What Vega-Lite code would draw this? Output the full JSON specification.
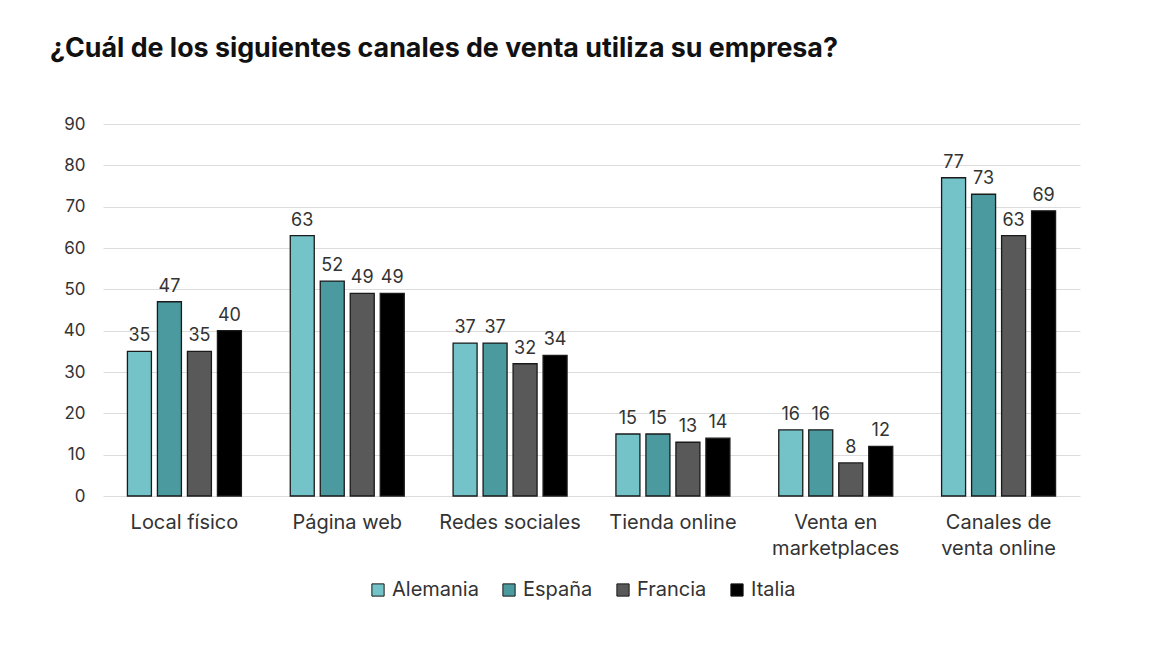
{
  "$schema": "https://vega.github.io/schema/vega-lite/v6.json",
  "autosize": {"type": "none"},
  "width": 977,
  "height": 372,
  "padding": {"left": 103, "top": 124, "right": 70, "bottom": 158},
  "background": "white",
  "title": {
    "text": "¿Cuál de los siguientes canales de venta utiliza su empresa?",
    "anchor": "start",
    "frame": "group",
    "dx": -53,
    "offset": 52,
    "font": "Inter",
    "fontSize": 26.8,
    "fontWeight": "bold",
    "color": "#111111"
  },
  "data": {
    "values": [
      {"canal": "Local físico", "pais": "Alemania", "valor": 35},
      {"canal": "Local físico", "pais": "España", "valor": 47},
      {"canal": "Local físico", "pais": "Francia", "valor": 35},
      {"canal": "Local físico", "pais": "Italia", "valor": 40},
      {"canal": "Página web", "pais": "Alemania", "valor": 63},
      {"canal": "Página web", "pais": "España", "valor": 52},
      {"canal": "Página web", "pais": "Francia", "valor": 49},
      {"canal": "Página web", "pais": "Italia", "valor": 49},
      {"canal": "Redes sociales", "pais": "Alemania", "valor": 37},
      {"canal": "Redes sociales", "pais": "España", "valor": 37},
      {"canal": "Redes sociales", "pais": "Francia", "valor": 32},
      {"canal": "Redes sociales", "pais": "Italia", "valor": 34},
      {"canal": "Tienda online", "pais": "Alemania", "valor": 15},
      {"canal": "Tienda online", "pais": "España", "valor": 15},
      {"canal": "Tienda online", "pais": "Francia", "valor": 13},
      {"canal": "Tienda online", "pais": "Italia", "valor": 14},
      {"canal": "Venta en marketplaces", "pais": "Alemania", "valor": 16},
      {"canal": "Venta en marketplaces", "pais": "España", "valor": 16},
      {"canal": "Venta en marketplaces", "pais": "Francia", "valor": 8},
      {"canal": "Venta en marketplaces", "pais": "Italia", "valor": 12},
      {"canal": "Canales de venta online", "pais": "Alemania", "valor": 77},
      {"canal": "Canales de venta online", "pais": "España", "valor": 73},
      {"canal": "Canales de venta online", "pais": "Francia", "valor": 63},
      {"canal": "Canales de venta online", "pais": "Italia", "valor": 69}
    ]
  },
  "encoding": {
    "x": {
      "field": "canal",
      "type": "nominal",
      "sort": null,
      "scale": {"paddingInner": 0.3, "paddingOuter": 0.15},
      "axis": {
        "title": null,
        "domain": false,
        "ticks": false,
        "labelAngle": 0,
        "labelFont": "Inter",
        "labelFontSize": 20,
        "labelColor": "#333333",
        "labelPadding": 16,
        "labelLineHeight": 26,
        "labelExpr": "datum.value == 'Venta en marketplaces' ? ['Venta en', 'marketplaces'] : datum.value == 'Canales de venta online' ? ['Canales de', 'venta online'] : datum.value"
      }
    },
    "xOffset": {
      "field": "pais",
      "type": "nominal",
      "scale": {"paddingInner": 0.2, "paddingOuter": 0}
    },
    "y": {
      "field": "valor",
      "type": "quantitative",
      "scale": {"domain": [0, 90]},
      "axis": {
        "title": null,
        "domain": false,
        "ticks": false,
        "values": [0, 10, 20, 30, 40, 50, 60, 70, 80, 90],
        "labelFont": "Inter",
        "labelFontSize": 17,
        "labelColor": "#333333",
        "labelPadding": 18,
        "gridColor": "#dcdcdc",
        "gridWidth": 1
      }
    }
  },
  "layer": [
    {
      "mark": {"type": "bar", "stroke": "#1a1a1a", "strokeWidth": 1.3},
      "encoding": {
        "color": {
          "field": "pais",
          "type": "nominal",
          "scale": {
            "domain": ["Alemania", "España", "Francia", "Italia"],
            "range": ["#74C3C9", "#4A9A9F", "#595959", "#000000"]
          },
          "legend": {
            "title": null,
            "orient": "none",
            "legendX": 265,
            "legendY": 456,
            "direction": "horizontal",
            "symbolType": "square",
            "symbolSize": 150,
            "symbolStrokeColor": "#1a1a1a",
            "symbolStrokeWidth": 1,
            "labelFont": "Inter",
            "labelFontSize": 20,
            "labelColor": "#333333",
            "labelOffset": 4,
            "columnPadding": 20
          }
        }
      }
    },
    {
      "mark": {
        "type": "text",
        "dy": -15,
        "font": "Inter",
        "fontSize": 18,
        "color": "#333333"
      },
      "encoding": {
        "text": {"field": "valor", "type": "quantitative"}
      }
    }
  ],
  "config": {
    "view": {"stroke": null}
  }
}
